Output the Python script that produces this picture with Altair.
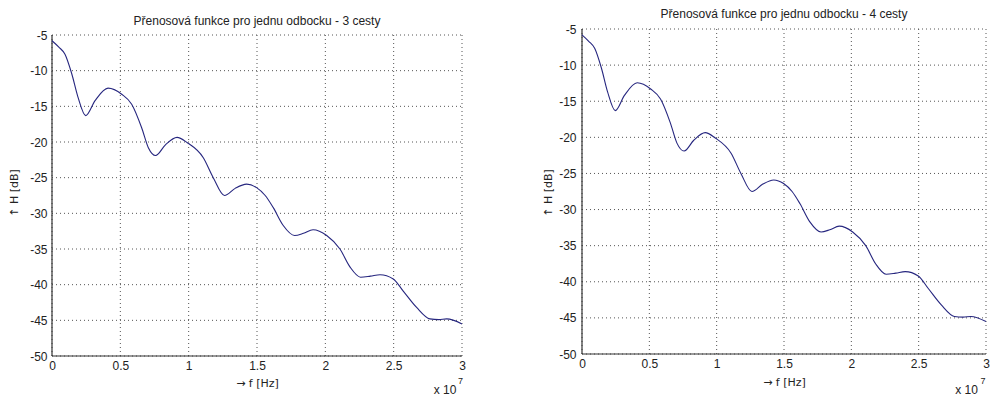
import altair as alt
import pandas as pd

# frequency axis in units of 1e7 Hz
freq = [0, 0.05, 0.095, 0.144, 0.19, 0.247, 0.315, 0.41, 0.51, 0.583, 0.656, 0.705,
        0.758, 0.83, 0.915, 0.99, 1.107, 1.18, 1.262, 1.34, 1.424, 1.497, 1.56, 1.619,
        1.692, 1.775, 1.84, 1.91, 2.01, 2.107, 2.18, 2.258, 2.33, 2.40, 2.497, 2.57,
        2.668, 2.765, 2.83, 2.888, 3.0]
h_3cesty = [-5.8, -6.7, -7.7, -10.4, -13.7, -16.3, -14.2, -12.45, -13.3, -14.7, -18.0, -20.8,
            -21.9, -20.4, -19.35, -20.1, -22.2, -25.0, -27.5, -26.5, -25.9, -26.4, -27.5, -29.2,
            -31.7, -33.1, -32.8, -32.3, -33.1, -35.0, -37.5, -38.95, -38.8, -38.6, -39.2, -40.9,
            -43.2, -44.8, -44.9, -44.8, -45.5]
h_4cesty = [-5.8, -6.7, -7.7, -10.4, -13.7, -16.3, -14.2, -12.45, -13.3, -14.7, -18.0, -20.8,
            -21.9, -20.4, -19.35, -20.1, -22.2, -25.0, -27.5, -26.5, -25.9, -26.4, -27.5, -29.2,
            -31.7, -33.1, -32.8, -32.3, -33.1, -35.0, -37.5, -38.95, -38.8, -38.6, -39.2, -40.9,
            -43.2, -44.8, -44.9, -44.8, -45.5]

x_ticks = [0, 0.5, 1, 1.5, 2, 2.5, 3]
y_ticks = [-5, -10, -15, -20, -25, -30, -35, -40, -45, -50]
titles = ["Přenosová funkce pro jednu odbocku - 3 cesty",
          "Přenosová funkce pro jednu odbocku - 4 cesty"]
x_title = "→ f [Hz]"
y_title = "↑ H [dB]"
exp_base = "x 10"
exp_pow = "7"

FONT = "Liberation Sans"
AFONT = "DejaVu Sans"
TXT = "#222222"
LINE = "#26267f"
GRID = "#555555"
AXC = "#333333"


def panel(vals, title, w, h, ytop, ybot, ylab_pad, ytit_pad, xlab_pad, xtit_pad,
          title_y, base_xy, pow_xy):
    df = pd.DataFrame({"f": freq, "H": vals})
    xsc = alt.Scale(domain=[0, 3], nice=False, zero=False)
    ysc = alt.Scale(domain=[ybot, ytop], nice=False, zero=False)
    xax = alt.Axis(values=x_ticks, format="~g", title=x_title, ticks=False,
                   domain=False, grid=False, labelOverlap=False,
                   labelPadding=xlab_pad, titlePadding=xtit_pad,
                   labelFont=FONT, labelFontSize=12, labelColor=TXT,
                   titleFont=AFONT, titleFontSize=11, titleFontWeight="normal",
                   titleColor=TXT, labelFlush=False)
    yax = alt.Axis(values=y_ticks, labelExpr="datum.value + ''", title=y_title,
                   ticks=False, domain=False, grid=False, labelOverlap=False,
                   labelPadding=ylab_pad, titlePadding=ytit_pad,
                   labelFont=FONT, labelFontSize=12, labelColor=TXT,
                   titleFont=AFONT, titleFontSize=11, titleFontWeight="normal",
                   titleColor=TXT)
    x = alt.X("f:Q", scale=xsc, axis=xax)
    y = alt.Y("H:Q", scale=ysc, axis=yax)
    ytop_d = alt.YDatum(y_ticks[0], scale=ysc, axis=yax)
    ybot_d = alt.Y2Datum(y_ticks[-1])
    xl_d = alt.XDatum(x_ticks[0], scale=xsc, axis=xax)
    xr_d = alt.X2Datum(x_ticks[-1])
    # dotted grid drawn from the tick lists
    vgrid = alt.Chart(pd.DataFrame({"f": x_ticks})).mark_rule(
        color=GRID, strokeDash=[1, 3], strokeWidth=1).encode(
        x=x, y=ytop_d, y2=ybot_d)
    hgrid = alt.Chart(pd.DataFrame({"H": y_ticks})).mark_rule(
        color=GRID, strokeDash=[1, 3], strokeWidth=1).encode(
        y=y, x=xl_d, x2=xr_d)
    # solid axis lines (left and bottom)
    yaxis_line = alt.Chart(pd.DataFrame({"f": [x_ticks[0]]})).mark_rule(
        color=AXC, strokeWidth=1.2).encode(x=x, y=ytop_d, y2=ybot_d)
    xaxis_line = alt.Chart(pd.DataFrame({"H": [y_ticks[-1]]})).mark_rule(
        color=AXC, strokeWidth=1.2).encode(y=y, x=xl_d, x2=xr_d)
    line = alt.Chart(df).mark_line(color=LINE, strokeWidth=1.1,
                                   interpolate="monotone").encode(x=x, y=y)
    ttl = alt.Chart(pd.DataFrame({"t": [title]})).mark_text(
        font=FONT, fontSize=12, color=TXT, baseline="top", align="center").encode(
        text="t:N", x=alt.value(w / 2), y=alt.value(title_y))
    base = alt.Chart(pd.DataFrame({"t": [exp_base]})).mark_text(
        font=FONT, fontSize=12, color=TXT, baseline="middle", align="center").encode(
        text="t:N", x=alt.value(base_xy[0]), y=alt.value(base_xy[1]))
    powr = alt.Chart(pd.DataFrame({"t": [exp_pow]})).mark_text(
        font=FONT, fontSize=9, color=TXT, baseline="middle", align="center").encode(
        text="t:N", x=alt.value(pow_xy[0]), y=alt.value(pow_xy[1]))
    return alt.layer(vgrid, hgrid, yaxis_line, xaxis_line, line, ttl, base, powr
                     ).properties(width=w, height=h)


H = 327
# left: -5 sits 6 px below the panel top, -50 at the bottom
left = panel(h_3cesty, titles[0], 410, H, -5 + 6 * 45 / 321, -50, 5, 10, 4, 6, -13,
             (393, 361), (408.5, 352))
# right: -5 at the panel top, -50 sits 2 px above the bottom
right = panel(h_4cesty, titles[1], 404, H, -5, -50 - 2 * 45 / 325, 6, 5, 2, 7, -20,
              (384.5, 361), (401, 352))

chart = alt.hconcat(left, right, spacing=76).properties(
    padding=0).configure_view(stroke=None)

chart.save("out.html", embed_options={"renderer": "svg", "actions": False})
